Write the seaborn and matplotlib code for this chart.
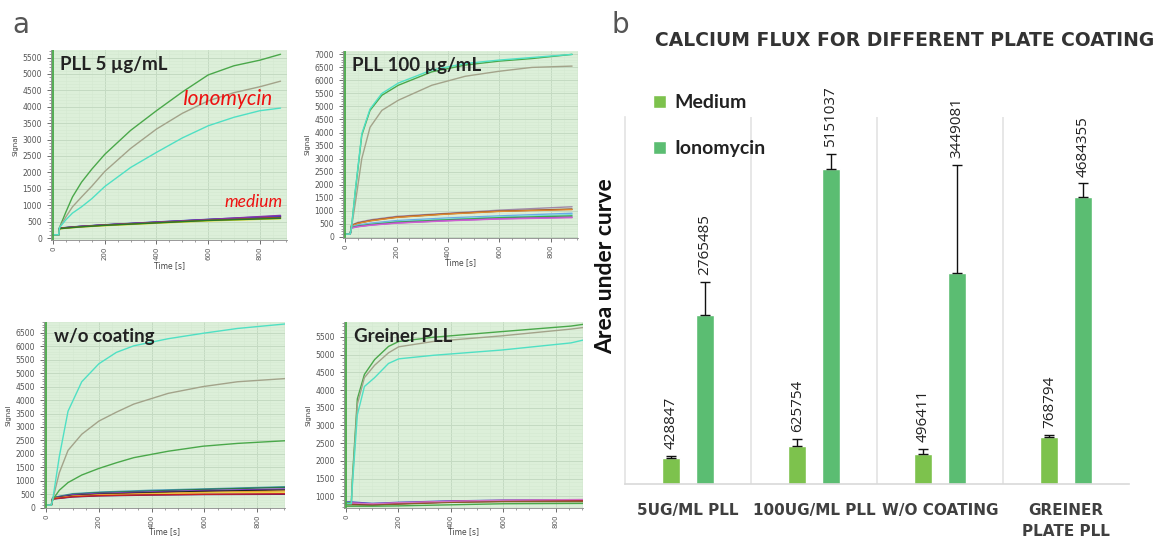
import numpy as np
import pandas as pd
import matplotlib
matplotlib.use('Agg')
import matplotlib.pyplot as plt
import seaborn as sns
from matplotlib.ticker import MultipleLocator

sns.set_style('white')
plt.rcParams['font.family'] = ['DejaVu Sans']

# ---------- panel a: raw traces ----------
iono_colors = ['#4aa84a', '#a3a38a', '#4fe0c4']

pll5_t = [0, 22, 25, 50, 75, 110, 150, 200, 300, 400, 500, 600, 700, 800, 880]
pll5_iono = [
    [100, 100, 320, 800, 1250, 1700, 2100, 2550, 3280, 3880, 4450, 4970, 5250, 5420, 5600],
    [100, 100, 320, 650, 950, 1250, 1580, 2030, 2730, 3320, 3800, 4180, 4430, 4610, 4780],
    [100, 100, 320, 560, 760, 950, 1200, 1570, 2150, 2610, 3050, 3420, 3680, 3880, 3960],
]
pll5_med_t = [0, 22, 25, 100, 200, 400, 600, 880]
pll5_med = [
    [100, 100, 300, 350, 400, 480, 560, 650],
    [100, 100, 290, 345, 395, 475, 555, 640],
    [100, 100, 305, 355, 405, 490, 570, 670],
    [100, 100, 295, 350, 400, 485, 565, 690],
    [100, 100, 280, 330, 375, 450, 520, 590],
    [100, 100, 300, 345, 395, 470, 545, 620],
    [100, 100, 285, 335, 385, 460, 535, 600],
]
pll5_med_colors = ['#222222', '#cc2222', '#3344cc', '#8833aa', '#dddd22', '#8b5a2b', '#2a7a2a']

pll100_t = [0, 20, 25, 40, 65, 97, 143, 207, 337, 467, 597, 726, 882]
pll100_iono = [
    [100, 100, 350, 1750, 3900, 4850, 5430, 5815, 6330, 6590, 6740, 6840, 7000],
    [100, 100, 350, 1300, 3000, 4200, 4850, 5240, 5815, 6160, 6350, 6500, 6550],
    [100, 100, 350, 1800, 3950, 4900, 5500, 5900, 6400, 6650, 6780, 6880, 7000],
]
pll100_med_t = [0, 20, 25, 50, 100, 200, 400, 600, 882]
pll100_med = [
    [100, 100, 450, 550, 650, 780, 900, 1020, 1150],
    [100, 100, 430, 520, 620, 750, 880, 980, 1060],
    [100, 100, 420, 510, 610, 740, 870, 970, 1040],
    [100, 100, 380, 450, 520, 620, 720, 800, 900],
    [100, 100, 360, 420, 490, 580, 680, 760, 850],
    [100, 100, 350, 410, 470, 560, 650, 730, 800],
    [100, 100, 340, 390, 450, 530, 620, 690, 750],
    [100, 100, 330, 380, 440, 520, 610, 680, 730],
]
pll100_med_colors = ['#a08aa8', '#7a3a1a', '#e08a30', '#6aa8e8', '#7ad8e0', '#3aa84a', '#9040c0', '#d060d0']

noco_t = [0, 20, 25, 50, 83, 135, 200, 266, 332, 463, 594, 725, 909]
noco_iono = [
    [100, 100, 300, 650, 935, 1215, 1460, 1670, 1860, 2100, 2285, 2390, 2490],
    [100, 100, 300, 1300, 2130, 2730, 3220, 3550, 3850, 4250, 4500, 4680, 4800],
    [100, 100, 300, 1900, 3585, 4680, 5350, 5770, 6015, 6280, 6480, 6660, 6830],
]
noco_med_t = [0, 20, 25, 100, 200, 400, 600, 909]
noco_med = [
    [100, 100, 380, 520, 580, 650, 700, 780],
    [100, 100, 370, 500, 560, 620, 680, 760],
    [100, 100, 360, 480, 530, 590, 640, 700],
    [100, 100, 350, 450, 500, 560, 610, 660],
    [100, 100, 340, 430, 480, 530, 570, 620],
    [100, 100, 330, 420, 460, 510, 550, 580],
    [100, 100, 320, 400, 440, 470, 490, 500],
    [100, 100, 330, 410, 450, 480, 500, 520],
]
noco_med_colors = ['#4a9ab8', '#2a7a4a', '#8040c0', '#222222', '#e89030', '#e8d040', '#4a1a7a', '#cc2222']

greiner_t = [0, 20, 24, 43, 70, 109, 162, 201, 333, 596, 859, 912]
greiner_iono = [
    [820, 820, 1500, 3750, 4440, 4860, 5230, 5370, 5490, 5650, 5805, 5860],
    [800, 800, 1400, 3600, 4350, 4700, 5050, 5220, 5370, 5530, 5720, 5770],
    [790, 790, 1300, 3300, 4100, 4350, 4750, 4880, 4980, 5130, 5330, 5420],
]
greiner_med_t = [0, 20, 100, 200, 400, 600, 912]
greiner_med = [
    [840, 840, 800, 830, 870, 890, 900],
    [820, 820, 780, 810, 860, 880, 890],
    [800, 800, 760, 800, 850, 870, 880],
    [780, 780, 760, 790, 840, 860, 860],
    [760, 760, 750, 780, 830, 850, 850],
    [720, 720, 720, 730, 760, 790, 800],
    [810, 810, 790, 820, 860, 890, 910],
]
greiner_med_colors = ['#3344cc', '#8833aa', '#cc2222', '#7a1a1a', '#8b5a2b', '#4aa84a', '#d070c0']

# ---------- panel b: area under curve ----------
coatings = ['5UG/ML PLL', '100UG/ML PLL', 'W/O COATING', 'GREINER\nPLATE PLL']
medium_auc = [428847, 625754, 496411, 768794]
medium_err = [30000, 115000, 80000, 30000]
iono_auc = [2765485, 5151037, 3449081, 4684355]
iono_err = [540000, 250000, 1770000, 230000]

medium_color = '#7dc24d'
iono_color = '#5bbd72'

W, H = 1165, 539
fig = plt.figure(figsize=(W / 100, H / 100), dpi=100)


def px_axes(x0, y0, x1, y1):
    return fig.add_axes([x0 / W, 1 - y1 / H, (x1 - x0) / W, (y1 - y0) / H])


def trace_panel(ax, t_iono, iono, t_med, med, med_colors, ylim, title, xlab_y=-0.1):
    ax.set_facecolor('#dcefd9')
    rows = []
    for i, ys in enumerate(med):
        for tt, yy in zip(t_med, ys):
            rows.append({'t': tt, 'signal': yy, 'trace': f'm{i}'})
    for i, ys in enumerate(iono):
        for tt, yy in zip(t_iono, ys):
            rows.append({'t': tt, 'signal': yy, 'trace': f'i{i}'})
    df = pd.DataFrame(rows)
    pal = {f'm{i}': c for i, c in enumerate(med_colors)}
    pal.update({f'i{i}': c for i, c in enumerate(iono_colors)})
    sns.lineplot(data=df, x='t', y='signal', hue='trace', palette=pal,
                 linewidth=1.0, legend=False, ax=ax, estimator=None, sort=False)
    ax.axvline(0, color='#4aa84a', lw=1.3)
    ax.set_xlim(-8, 905)
    ax.set_ylim(*ylim)
    ax.xaxis.set_major_locator(MultipleLocator(200))
    ax.xaxis.set_minor_locator(MultipleLocator(50))
    ax.yaxis.set_major_locator(MultipleLocator(500))
    ax.yaxis.set_minor_locator(MultipleLocator(100))
    ax.grid(True, which='major', color='#c4dac2', lw=0.7)
    ax.grid(True, which='minor', color='#d4e8d1', lw=0.4)
    ax.tick_params(axis='both', which='major', labelsize=5.5, colors='#555555',
                   length=3, width=0.6, direction='out', left=True, bottom=True)
    ax.tick_params(axis='x', which='major', labelsize=5, pad=1.5)
    ax.tick_params(axis='both', which='minor', length=1.5, width=0.5,
                   colors='#777777', left=True, bottom=True)
    for lab in ax.get_xticklabels():
        lab.set_rotation(90)
    ax.set_xlabel('Time [s]', fontsize=5.5, color='#444444')
    ax.xaxis.set_label_coords(0.5, xlab_y)
    ax.set_ylabel('Signal', fontsize=5, color='#444444', labelpad=3)
    for side in ['top', 'right']:
        ax.spines[side].set_visible(False)
    for side in ['left', 'bottom']:
        ax.spines[side].set_color('#888888')
        ax.spines[side].set_linewidth(0.6)
    ax.text(0.04, 0.97, title, transform=ax.transAxes, ha='left', va='top',
            fontsize=13.5, fontweight='bold', color='#222222', family=['Lato', 'DejaVu Sans'])


ax1 = px_axes(51, 50, 287, 240)
trace_panel(ax1, pll5_t, pll5_iono, pll5_med_t, pll5_med, pll5_med_colors,
            (-60, 5730), 'PLL 5 µg/mL', xlab_y=-0.11)
ax1.text(0.94, 0.74, 'Ionomycin', transform=ax1.transAxes, ha='right', va='center',
         fontsize=15, style='italic', color='#ee1111', family=['Lato', 'DejaVu Sans'])
ax1.text(0.98, 0.2, 'medium', transform=ax1.transAxes, ha='right', va='center',
         fontsize=12.5, style='italic', color='#ee1111', family=['Lato', 'DejaVu Sans'])

ax2 = px_axes(343, 51, 578, 238)
trace_panel(ax2, pll100_t, pll100_iono, pll100_med_t, pll100_med, pll100_med_colors,
            (-50, 7130), 'PLL 100 µg/mL', xlab_y=-0.11)

ax3 = px_axes(44, 322, 285, 508)
trace_panel(ax3, noco_t, noco_iono, noco_med_t, noco_med, noco_med_colors,
            (-10, 6900), 'w/o coating', xlab_y=-0.105)

ax4 = px_axes(344, 322, 583, 508)
trace_panel(ax4, greiner_t, greiner_iono, greiner_med_t, greiner_med, greiner_med_colors,
            (670, 5920), 'Greiner PLL', xlab_y=-0.105)

fig.text(12 / W, 1 - 25 / H, 'a', fontsize=20, color='#555555', va='center', ha='left')
fig.text(612 / W, 1 - 25 / H, 'b', fontsize=20, color='#555555', va='center', ha='left')

# ---------- bar chart ----------
axb = px_axes(625, 117, 1129, 484)
bar_df = pd.DataFrame({
    'coating': coatings * 2,
    'auc': medium_auc + iono_auc,
    'treatment': ['Medium'] * 4 + ['Ionomycin'] * 4,
})
sns.barplot(data=bar_df, x='coating', y='auc', hue='treatment',
            palette=[medium_color, iono_color], width=0.53, gap=0.45,
            errorbar=None, ax=axb, saturation=1)

for cont, vals, errs in zip(axb.containers, [medium_auc, iono_auc], [medium_err, iono_err]):
    xs = [p.get_x() + p.get_width() / 2 for p in cont.patches]
    axb.errorbar(xs, vals, yerr=[np.zeros(len(vals)), errs], fmt='none',
                 ecolor='#111111', elinewidth=1, capsize=3.5, capthick=1)
    for x, v, e in zip(xs, vals, errs):
        axb.text(x, v + e + 110000, str(v), rotation=90, ha='center', va='bottom',
                 fontsize=11, color='#222222', family=['Open Sans', 'DejaVu Sans'])

axb.set_xlim(-0.5, 3.5)
axb.set_ylim(0, 6.0e6)
axb.set_yticks([])
axb.set_xlabel('')
axb.set_ylabel('Area under curve', fontsize=16.5, fontweight='bold', color='#111111',
               family=['Lato', 'DejaVu Sans'])
axb.yaxis.set_label_coords(-0.018, 0.595)
for xb in [0.5, 1.5, 2.5]:
    axb.axvline(xb, color='#e3e3e3', lw=1.2)
for side in ['top', 'right']:
    axb.spines[side].set_visible(False)
axb.spines['left'].set_color('#e3e3e3')
axb.spines['bottom'].set_color('#d9d9d9')
axb.spines['left'].set_linewidth(1.2)
axb.spines['bottom'].set_linewidth(1.2)
axb.tick_params(axis='x', length=0, pad=14)
for lab in axb.get_xticklabels():
    lab.set_fontsize(11)
    lab.set_fontweight('bold')
    lab.set_color('#404040')
    lab.set_linespacing(1.45)
axb.set_title('CALCIUM FLUX FOR DIFFERENT PLATE COATING', fontsize=13.5,
              fontweight='bold', color='#333333', x=0.555, y=1.17)

leg = axb.legend(loc='upper left', bbox_to_anchor=(0.02, 1.11), frameon=False,
                 handlelength=0.7, handleheight=0.7, handletextpad=0.4,
                 labelspacing=1.5, prop={'family': ['Lato', 'DejaVu Sans'],
                                         'weight': 'bold', 'size': 14})
for txt in leg.get_texts():
    txt.set_color('#222222')

fig.savefig('out.png', dpi=100)
